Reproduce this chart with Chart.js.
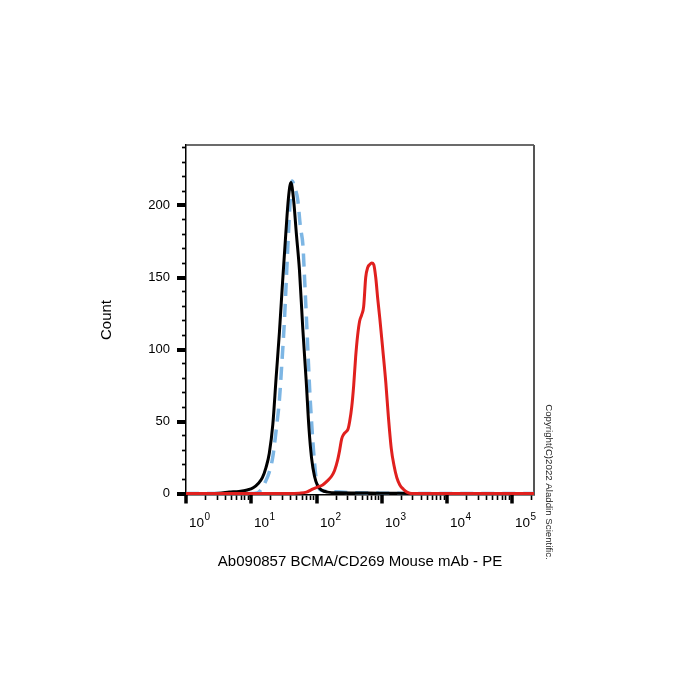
<!DOCTYPE html>
<html>
<head>
<meta charset="utf-8">
<script src="https://cdn.jsdelivr.net/npm/chart.js@4"></script>
<style>
  html, body { margin: 0; padding: 0; background: #fff; }
  canvas { display: block; }
</style>
</head>
<body>
<canvas id="myChart_flow" width="700" height="700"></canvas>
<script>
// PE intensity (x) and cell count (y)
const blankX = [1, 3.2, 4.6, 6.5, 8.7, 10.7, 12.8, 14.8, 16.8, 18.9, 21.4, 24.0, 27.0, 30.3, 34.0, 37.1, 40.5, 44.3, 49.2, 54.8, 61.5, 69.5, 76.7, 83.8, 93.1, 104, 119, 148, 226, 930, 3850, 215000];
const blankY = [0, 0.3, 1, 1.5, 2.5, 4, 7, 11, 18, 28, 48, 80, 112, 148, 182, 205, 216, 205, 180, 155, 115, 78, 45, 25, 12, 5.5, 2.5, 1, 0.5, 0.3, 0, 0];

const isotypeX = [1, 9.3, 12.4, 14.3, 16.4, 18.9, 21.3, 24.2, 27.0, 29.0, 32.2, 35.8, 39.1, 42.3, 45.9, 51.5, 56.7, 62.0, 65.0, 69.5, 75.3, 79.4, 85.3, 89.9, 98.9, 107, 124, 159, 226, 385, 930, 1890, 3850, 215000];
const isotypeY = [0, 0, 0.5, 3, 8, 15, 25, 45, 65, 86, 120, 165, 200, 217, 213, 204, 185, 172, 153, 125, 90, 68, 45, 30, 10, 4, 2, 1.5, 1, 0.5, 0.3, 0.2, 0, 0];

const antibodyX = [1, 38.4, 54.8, 70.2, 86.8, 104, 124, 148, 170, 189, 210, 226, 243, 260, 284, 305, 322, 346, 371, 398, 427, 459, 492, 528, 567, 609, 654, 702, 753, 808, 868, 931, 1036, 1153, 1259, 1400, 1531, 1702, 1892, 2143, 2427, 2897, 215000];
const antibodyY = [0, 0, 0.3, 1, 3, 4.5, 6, 9, 12, 16, 23, 30, 38, 41, 43, 45, 50, 60, 75, 95, 110, 120, 124, 130, 150, 157, 159, 160, 159, 150, 135, 122, 100, 77, 54, 31, 20, 11, 6, 3, 1, 0, 0];

// x tick labels are 10 with these powers
const decadeValues = [1, 10, 100, 1000, 10000, 100000];
const decadePowers = ['0', '1', '2', '3', '4', '5'];
const countLabels = [0, 50, 100, 150, 200];

const FONT = 'Liberation Sans, Arial, sans-serif';

function toPoints(xs, ys) {
    return xs.map((x, i) => ({ x: x, y: ys[i] }));
}

function isDecade(v) {
    return decadeValues.some(d => Math.abs(v - d) < 1e-6);
}

// long thick major ticks, 10^n labels, box frame and the copyright note
const axisExtras = {
    id: 'axisExtras',
    beforeDatasetsDraw(chart) {
        const { ctx, chartArea: a } = chart;
        ctx.save();
        ctx.lineWidth = 1.5;
        ctx.strokeStyle = '#3a3a3a';
        ctx.beginPath();
        ctx.moveTo(a.left, a.top);
        ctx.lineTo(a.right, a.top);
        ctx.stroke();
        ctx.lineWidth = 2;
        ctx.strokeStyle = '#555';
        ctx.beginPath();
        ctx.moveTo(a.right, a.top);
        ctx.lineTo(a.right, a.bottom);
        ctx.stroke();
        ctx.restore();
    },
    afterDraw(chart) {
        const { ctx, chartArea: a } = chart;
        const xs = chart.scales.x, ys = chart.scales.y;
        ctx.save();
        ctx.strokeStyle = '#000';
        ctx.fillStyle = '#000';
        ctx.textAlign = 'left';
        ctx.textBaseline = 'alphabetic';
        decadeValues.forEach((v, i) => {
            const px = Math.round(xs.getPixelForValue(v));
            ctx.lineWidth = 3.5;
            ctx.beginPath();
            ctx.moveTo(px, a.bottom);
            ctx.lineTo(px, a.bottom + 8.5);
            ctx.stroke();
            ctx.font = '13.5px ' + FONT;
            ctx.fillText('10', px + 3, a.bottom + 31.5);
            const w = ctx.measureText('10').width;
            ctx.font = '10px ' + FONT;
            ctx.fillText(decadePowers[i], px + 3 + w + 0.5, a.bottom + 25);
        });
        ctx.lineWidth = 4;
        countLabels.forEach(v => {
            const py = Math.round(ys.getPixelForValue(v));
            ctx.beginPath();
            ctx.moveTo(a.left - 9, py);
            ctx.lineTo(a.left, py);
            ctx.stroke();
        });
        ctx.translate(549, 482);
        ctx.rotate(Math.PI / 2);
        ctx.fillStyle = '#222';
        ctx.font = '9.7px ' + FONT;
        ctx.textAlign = 'center';
        ctx.textBaseline = 'middle';
        ctx.fillText('Copyright(C)2022 Aladdin Scientific.', 0, 0);
        ctx.restore();
    }
};

new Chart('myChart_flow', {
    type: 'line',
    data: {
        datasets: [
            { label: 'BCMA/CD269', data: toPoints(antibodyX, antibodyY), borderColor: '#e0201e', borderWidth: 3 },
            { label: 'Blank', data: toPoints(blankX, blankY), borderColor: '#000', borderWidth: 3 },
            { label: 'Isotype', data: toPoints(isotypeX, isotypeY), borderColor: '#7db6e4', borderWidth: 3.5, borderDash: [13, 8] }
        ]
    },
    options: {
        responsive: false,
        animation: false,
        elements: {
            point: { radius: 0 },
            line: { cubicInterpolationMode: 'monotone', fill: false }
        },
        layout: { padding: { left: 98, top: 145, right: 166, bottom: 129 } },
        plugins: {
            legend: { display: false },
            tooltip: { enabled: false }
        },
        scales: {
            x: {
                type: 'logarithmic',
                min: 1,
                max: 215000,
                afterFit: scale => { scale.height = 76; },
                afterBuildTicks: scale => {
                    const t = [];
                    decadeValues.forEach(d => {
                        for (let m = 1; m <= 9; m++) {
                            if (m * d <= scale.max) t.push({ value: m * d });
                        }
                    });
                    scale.ticks = t;
                },
                grid: {
                    display: true,
                    drawOnChartArea: false,
                    drawTicks: true,
                    tickLength: 5,
                    tickWidth: 1.6,
                    tickColor: ctx => (ctx.tick && isDecade(ctx.tick.value)) ? 'rgba(0,0,0,0)' : '#000'
                },
                border: { display: true, color: '#000', width: 1.5 },
                ticks: { display: false, autoSkip: false },
                title: {
                    display: true,
                    text: 'Ab090857 BCMA/CD269 Mouse mAb - PE',
                    color: '#000',
                    font: { size: 15, family: FONT },
                    padding: 0
                }
            },
            y: {
                type: 'linear',
                min: -1,
                max: 242,
                afterFit: scale => { scale.width = 88; },
                afterBuildTicks: scale => {
                    const t = [];
                    for (let v = 0; v <= 240; v += 10) t.push({ value: v });
                    scale.ticks = t;
                },
                grid: {
                    display: true,
                    drawOnChartArea: false,
                    drawTicks: true,
                    tickLength: 4,
                    tickWidth: 1.7,
                    tickColor: ctx => (ctx.tick && ctx.tick.value % 50 === 0) ? 'rgba(0,0,0,0)' : '#000'
                },
                border: { display: true, color: '#000', width: 1.5 },
                ticks: {
                    autoSkip: false,
                    padding: 12,
                    color: '#000',
                    font: { size: 13, family: FONT },
                    callback: value => countLabels.includes(value) ? String(value) : ''
                },
                title: {
                    display: true,
                    text: 'Count',
                    color: '#000',
                    font: { size: 15, family: FONT },
                    padding: 0
                }
            }
        }
    },
    plugins: [axisExtras]
});
</script>
</body>
</html>
